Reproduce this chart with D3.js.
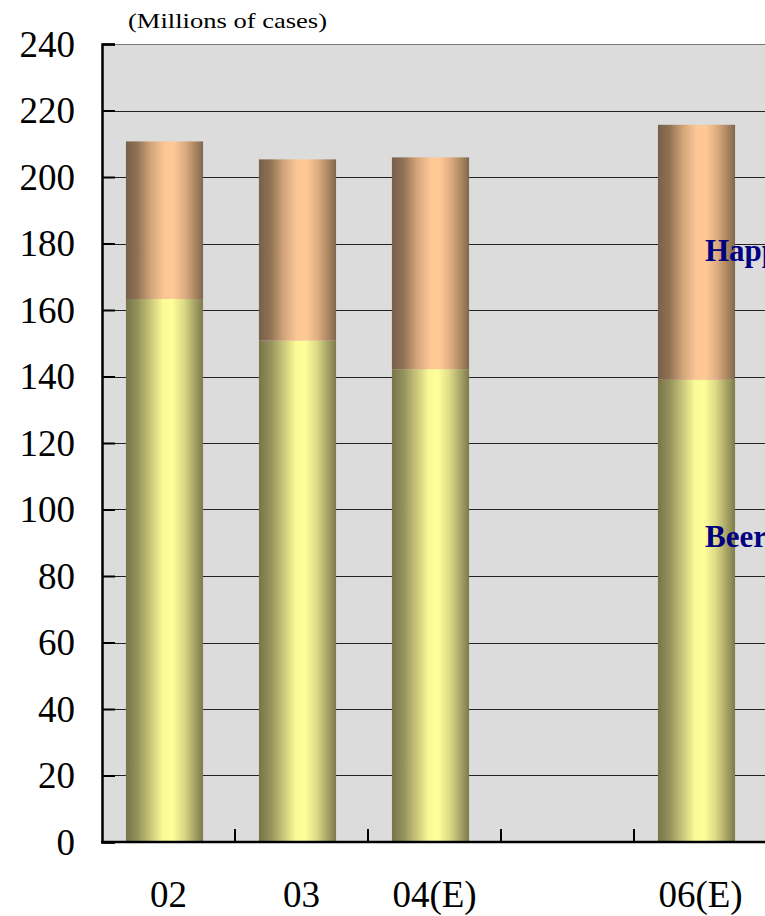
<!DOCTYPE html>
<html><head><meta charset="utf-8">
<script src="https://cdn.jsdelivr.net/npm/d3@7"></script>
<style>body{margin:0;background:#fff}svg{display:block}text{font-family:"Liberation Serif","Times New Roman",serif}</style>
</head><body>
<script>
const categories = ["02", "03", "04(E)", "", "06(E)"];
const beer = [163.3, 150.8, 142.2, null, 139.0];
const happoshu = [47.4, 54.5, 63.7, null, 76.7];
const yTicks = [0, 20, 40, 60, 80, 100, 120, 140, 160, 180, 200, 220, 240];
const seriesNames = ["Beer", "Happoshu"];
const labelValues = [92, 178];

const W = 765, H = 916;
const m = {l: 102, t: 44, r: -2, b: 74};
const svg = d3.select("body").append("svg").attr("width", W).attr("height", H);

const x = d3.scaleBand().domain(categories).range([m.l, W - m.r]).paddingInner(0).paddingOuter(0);
const y = d3.scaleLinear().domain([0, 240]).range([H - m.b, m.t]);
const barW = x.bandwidth() * 0.58;
const barShift = -4;

const defs = svg.append("defs");
function grad(id, stops) {
  const g = defs.append("linearGradient").attr("id", id).attr("x1", "0").attr("x2", "1").attr("y1", "0").attr("y2", "0");
  stops.forEach(s => g.append("stop").attr("offset", s[0]).attr("stop-color", s[1]));
}
grad("gBeer", [[0, "#77744a"], [0.15, "#94925c"], [0.32, "#c9c67a"], [0.48, "#fbfb96"], [0.6, "#ffff99"], [0.75, "#dcda86"], [0.9, "#a3a064"], [1, "#7d7a4c"]]);
grad("gHap", [[0, "#76604a"], [0.15, "#917254"], [0.32, "#d1a47a"], [0.5, "#fdc795"], [0.62, "#ffc996"], [0.78, "#d8a87e"], [0.9, "#a9865f"], [1, "#806650"]]);

// plot background
svg.append("rect").attr("x", m.l).attr("y", m.t).attr("width", W - m.l + 5).attr("height", y(0) - m.t).attr("fill", "#dcdcdc");

// grid lines
svg.append("g").selectAll("line").data(yTicks.filter(d => d > 0)).join("line")
  .attr("x1", m.l).attr("x2", W + 5)
  .attr("y1", d => Math.round(y(d)) + 0.5).attr("y2", d => Math.round(y(d)) + 0.5)
  .attr("stroke", d => d === 240 ? "#777" : "#222").attr("stroke-width", 1.2);

// bars
const idx = d3.range(categories.length).filter(i => beer[i] != null);
const bars = svg.append("g");
bars.selectAll("rect.beer").data(idx).join("rect").attr("class", "beer")
  .attr("x", i => x(categories[i]) + x.bandwidth() / 2 - barW / 2 + barShift)
  .attr("width", barW)
  .attr("y", i => y(beer[i])).attr("height", i => y(0) - y(beer[i]))
  .attr("fill", "url(#gBeer)");
bars.selectAll("rect.hap").data(idx).join("rect").attr("class", "hap")
  .attr("x", i => x(categories[i]) + x.bandwidth() / 2 - barW / 2 + barShift)
  .attr("width", barW)
  .attr("y", i => y(beer[i] + happoshu[i])).attr("height", i => y(beer[i]) - y(beer[i] + happoshu[i]))
  .attr("fill", "url(#gHap)");

// axes
const yAxis = svg.append("g").attr("transform", `translate(${m.l},0)`)
  .call(d3.axisRight(y).tickValues(yTicks).tickSize(13).tickFormat(""));
yAxis.select(".domain").attr("stroke", "#000").attr("stroke-width", 2.5);
yAxis.selectAll(".tick line").attr("stroke", "#000").attr("stroke-width", 2);
svg.append("g").selectAll("text").data(yTicks).join("text")
  .attr("x", 75).attr("y", d => y(d)).attr("dy", "0.35em").attr("text-anchor", "end")
  .attr("font-size", 37).attr("fill", "#000")
  .text(d => d);

const xAxis = svg.append("g").attr("transform", `translate(0,${y(0)})`);
xAxis.append("line").attr("x1", m.l - 1).attr("x2", W + 5).attr("stroke", "#000").attr("stroke-width", 2.5);
xAxis.selectAll("line.t").data(categories.slice(1)).join("line").attr("class", "t")
  .attr("x1", d => x(d)).attr("x2", d => x(d)).attr("y1", 0).attr("y2", -13)
  .attr("stroke", "#000").attr("stroke-width", 2);
svg.append("g").selectAll("text").data(categories).join("text")
  .attr("x", d => x(d) + x.bandwidth() / 2).attr("y", 907).attr("text-anchor", "middle")
  .attr("font-size", 37).attr("fill", "#000")
  .text(d => d);

// unit label
svg.append("text").attr("x", 128).attr("y", 28)
  .attr("font-size", 22)
  .attr("textLength", 199).attr("lengthAdjust", "spacingAndGlyphs")
  .text("(Millions of cases)");

// series labels
svg.append("g").selectAll("text").data(seriesNames).join("text")
  .attr("x", 705).attr("y", (d, i) => y(labelValues[i])).attr("dy", "0.35em")
  .attr("font-size", 31).attr("font-weight", "bold")
  .attr("fill", "#000080").text(d => d);
</script>
</body></html>
